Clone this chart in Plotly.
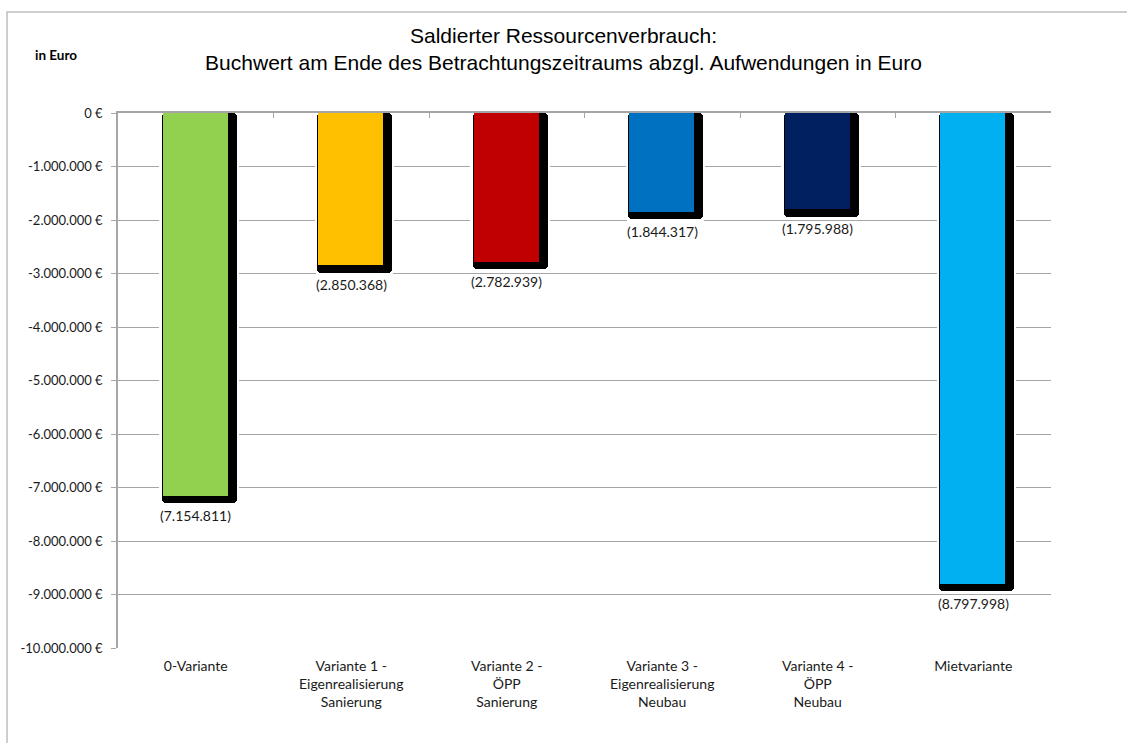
import plotly.graph_objects as go

categories = ["0-Variante", "Variante 1 -<br>Eigenrealisierung<br>Sanierung",
              "Variante 2 -<br>ÖPP<br>Sanierung", "Variante 3 -<br>Eigenrealisierung<br>Neubau",
              "Variante 4 -<br>ÖPP<br>Neubau", "Mietvariante"]
values = [-7154811, -2850368, -2782939, -1844317, -1795988, -8797998]
colors = ["#92D050", "#FFC000", "#C00000", "#0070C0", "#002060", "#00B0F0"]
tick_values = [0, -1000000, -2000000, -3000000, -4000000, -5000000,
               -6000000, -7000000, -8000000, -9000000, -10000000]

def de_fmt(v):
    s = f"{abs(v):,}".replace(",", ".")
    return ("-" if v < 0 else "") + s

tick_text = [de_fmt(v) + " €" for v in tick_values]
label_text = ["(" + de_fmt(v)[1:] + ")" for v in values]

W, H = 1127, 743
ml, mr, mt, mb = 118, 76, 113, 95
pw, ph = W - ml - mr, H - mt - mb

shadow_depth = 140000
halo_depth = 190000
FONT = "Lato, Carlito, sans-serif"

fig = go.Figure()
# white halo around shadow (hides gridlines near the bars)
fig.add_trace(go.Bar(
    x=categories, y=[v - halo_depth for v in values], base=0,
    offset=-0.234, width=0.512,
    marker=dict(color="#ffffff", cornerradius=5, line=dict(width=0)),
    hoverinfo="skip", showlegend=False,
))
# shadow
fig.add_trace(go.Bar(
    x=categories, y=[v - shadow_depth for v in values], base=0,
    offset=-0.219, width=0.482,
    marker=dict(color="#000000", cornerradius=4, line=dict(width=0)),
    hoverinfo="skip", showlegend=False,
))
# colored bars
fig.add_trace(go.Bar(
    x=categories, y=values, base=0,
    offset=-0.212, width=0.418,
    marker=dict(color=colors, line=dict(width=0)),
    showlegend=False,
))

for c, v, t in zip(categories, values, label_text):
    fig.add_annotation(x=c, y=v, text=t, showarrow=False, yanchor="top", yshift=-9,
                       font=dict(family=FONT, size=14, color="#1a1a1a"))

# helper axis on top (zero line with inside ticks at category boundaries)
fig.add_trace(go.Scatter(x=[None], y=[None], xaxis="x2", showlegend=False, hoverinfo="skip"))

fig.add_annotation(text="<b>in Euro</b>", xref="paper", yref="paper",
                   x=(33 - ml) / pw, y=(H - mb - 55) / ph, xanchor="left", yanchor="middle",
                   showarrow=False, font=dict(family=FONT, size=13.5, color="#000"))

# outer chart border
fig.add_shape(type="rect", xref="paper", yref="paper",
              x0=(7 - ml) / pw, x1=(W + 10 - ml) / pw,
              y0=(H - mb - (H + 10)) / ph, y1=(H - mb - 12) / ph,
              line=dict(color="#bfbfbf", width=1.5), fillcolor="rgba(0,0,0,0)", layer="below")

fig.update_layout(
    width=W, height=H,
    margin=dict(l=ml, r=mr, t=mt, b=mb),
    paper_bgcolor="white", plot_bgcolor="white",
    barmode="overlay", bargap=0,
    title=dict(text="Saldierter Ressourcenverbrauch:<br>Buchwert am Ende des Betrachtungszeitraums abzgl. Aufwendungen in Euro",
               x=0.5, xref="container", xanchor="center",
               y=1 - 43 / H, yref="container", yanchor="middle",
               font=dict(family="Liberation Sans Narrow, Arial Narrow, Liberation Sans, Arial, sans-serif",
                         size=21, color="#000")),
    xaxis=dict(type="category", showline=False, showgrid=False, ticks="", ticklen=0,
               ticklabelstandoff=8,
               tickfont=dict(family=FONT, size=14, color="#1a1a1a"),
               range=[-0.5, 5.5], fixedrange=True),
    xaxis2=dict(overlaying="x", side="top", range=[-0.5, 5.5], showgrid=False,
                showline=True, linecolor="#a6a6a6", linewidth=1.5,
                ticks="inside", ticklen=5, tickcolor="#a6a6a6",
                tickvals=[0.5, 1.5, 2.5, 3.5, 4.5], showticklabels=False, zeroline=False),
    yaxis=dict(range=[-10000000, 0], tickvals=tick_values, ticktext=tick_text,
               showgrid=True, gridcolor="#a6a6a6", gridwidth=1.2,
               showline=True, linecolor="#a6a6a6", linewidth=1.5,
               ticks="outside", ticklen=5, tickcolor="#a6a6a6",
               ticklabelstandoff=6, zeroline=False,
               tickfont=dict(family=FONT, size=13, color="#1a1a1a")),
)

fig.write_html("out.html")
